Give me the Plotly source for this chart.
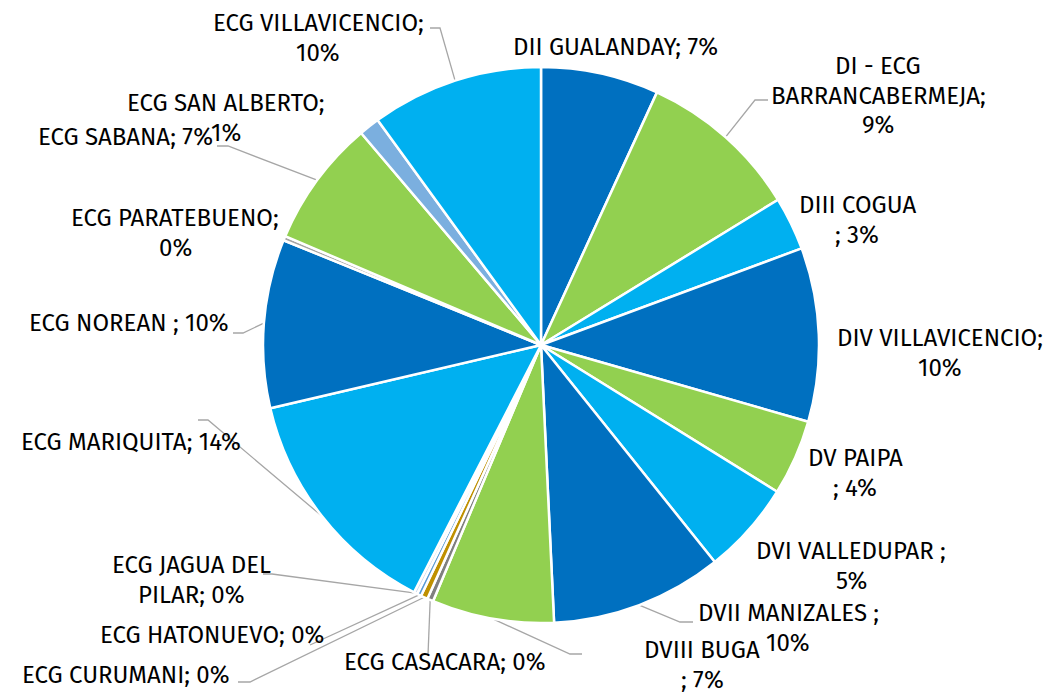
import math
import plotly.graph_objects as go

# ---------------- data ----------------
names = [
    "DII GUALANDAY", "DI - ECG BARRANCABERMEJA", "DIII COGUA ", "DIV VILLAVICENCIO",
    "DV PAIPA ", "DVI VALLEDUPAR ", "DVII MANIZALES ", "DVIII BUGA ",
    "ECG CASACARA", "ECG CURUMANI", "ECG HATONUEVO", "ECG JAGUA DEL PILAR",
    "ECG MARIQUITA", "ECG NOREAN ", "ECG PARATEBUENO", "ECG SABANA",
    "ECG SAN ALBERTO", "ECG VILLAVICENCIO",
]
values = [6.85, 9.4, 3.1, 10.1, 4.4, 5.4, 10.0, 7.1,
          0.35, 0.4, 0.25, 0.2, 13.8, 9.8, 0.25, 7.4, 1.2, 10.0]
colors = ["#0070C0", "#92D050", "#00B0F0", "#0070C0", "#92D050", "#00B0F0",
          "#0070C0", "#92D050", "#7F7F7F", "#BF9000", "#5B9BD5", "#C9D9EE",
          "#00B0F0", "#0070C0", "#A5A5A5", "#92D050", "#7BAFDF", "#00B0F0"]
# how each data label wraps ({n} = name, {p} = percent)
wrap = [
    ["{n}; {p}%"],
    ["DI - ECG", "BARRANCABERMEJA;", "{p}%"],
    ["DIII COGUA", "; {p}%"],
    ["{n};", "{p}%"],
    ["DV PAIPA", "; {p}%"],
    ["{n};", "{p}%"],
    ["{n};", "{p}%"],
    ["DVIII BUGA", "; {p}%"],
    ["{n}; {p}%"],
    ["{n}; {p}%"],
    ["{n}; {p}%"],
    ["ECG JAGUA DEL", "PILAR; {p}%"],
    ["{n}; {p}%"],
    ["{n}; {p}%"],
    ["{n};", "{p}%"],
    ["{n}; {p}%"],
    ["{n};", "{p}%"],
    ["{n};", "{p}%"],
]
# label placement (screen pixels): centre x, first-line y
label_pos = [
    (615, 47), (878, 66), (857, 205), (940, 338), (855, 458), (851, 551),
    (788, 613), (702, 650), (445, 662), (126, 675), (212, 635), (191, 565),
    (131, 442), (129, 323), (175, 218), (125, 137), (226, 103), (318, 23),
]
# leader line elbows after the slice edge point (None = no leader)
leaders = [
    None, [(755, 100), (768, 100)], None, None, None, None,
    [(680, 622), (693, 622)], [(570, 654), (582, 654)],
    [(428, 655)], [(250, 682), (238, 682)], [(310, 645)], [(272, 574), (263, 574)],
    [(208, 420), (198, 420)], [(243, 333), (233, 333)], None,
    [(228, 146), (217, 146)], None, [(440, 28), (430, 28)],
]

W, H = 1058, 693
OFF = 8            # page body margin: figure starts 8px into the window
CX, CY, R = 541, 345, 278
LINE_GAP = 29.5
FONT = "Fira Sans, Noto Sans, sans-serif"

fig = go.Figure()

fx, fy = CX - OFF, CY - OFF   # centre in figure pixels
fig.add_trace(go.Pie(
    labels=names, values=values, sort=False, direction="clockwise", rotation=0,
    marker=dict(colors=colors, line=dict(color="white", width=2.5)),
    textinfo="none", hoverinfo="label+percent", showlegend=False,
    domain=dict(x=[(fx - R) / W, (fx + R) / W],
                y=[(H - fy - R) / H, (H - fy + R) / H]),
))

total = sum(values)
cum = 0.0
annotations = []
for i, v in enumerate(values):
    mid = (cum + v / 2) / total * 2 * math.pi
    cum += v
    pct = round(v / total * 100)
    if leaders[i]:
        ex = CX + R * math.sin(mid)
        ey = CY - R * math.cos(mid)
        xs = [ex] + [p[0] for p in leaders[i]]
        ys = [ey] + [p[1] for p in leaders[i]]
        fig.add_trace(go.Scatter(x=xs, y=ys, mode="lines",
                                 line=dict(color="#A6A6A6", width=1.3),
                                 hoverinfo="skip", showlegend=False))
    lx, ly = label_pos[i]
    for k, tmpl in enumerate(wrap[i]):
        txt = tmpl.replace("{n}", names[i]).replace("{p}", str(pct))
        annotations.append(dict(
            x=lx, y=ly + k * LINE_GAP, xref="x", yref="y", text=txt,
            showarrow=False, xanchor="center", yanchor="middle", borderpad=0,
            font=dict(family=FONT, size=24, color="#000000"),
        ))

fig.update_layout(
    width=W, height=H, margin=dict(l=0, r=0, t=0, b=0),
    paper_bgcolor="white", plot_bgcolor="white",
    xaxis=dict(range=[OFF, W + OFF], visible=False, fixedrange=True),
    yaxis=dict(range=[H + OFF, OFF], visible=False, fixedrange=True),
    annotations=annotations, showlegend=False,
)

fig.write_html("out.html")
